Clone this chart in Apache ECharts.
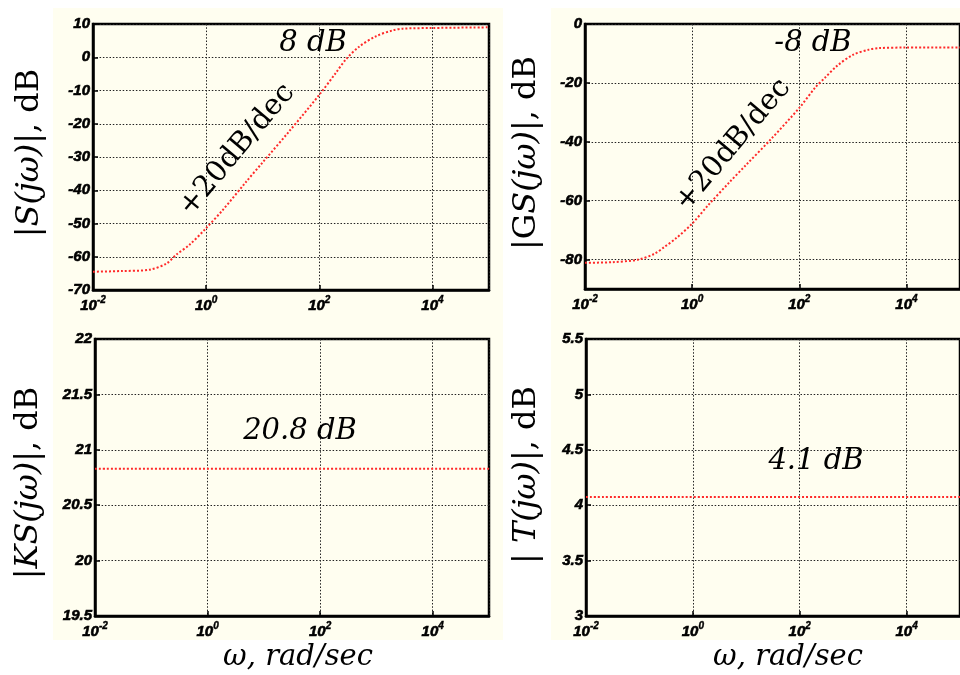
<!DOCTYPE html>
<html><head><meta charset="utf-8">
<script src="https://cdn.jsdelivr.net/npm/echarts@6/dist/echarts.min.js"></script>
<style>html,body{margin:0;padding:0;background:#fff}#c{width:960px;height:675px}</style>
</head><body><div id="c"></div>
<script>
// ---- data ----
const omega = [0.01, 0.0316, 0.1, 0.2, 0.3, 0.5, 1, 2, 5, 10, 30, 100, 200, 300, 500, 1000, 2000, 3000, 10000, 100000];
const sDb  = [-64.5, -64.3, -63.9, -62.0, -59.3, -56.5, -51.4, -45.8, -37.6, -31.6, -22.1, -11.3, -4.5, -0.5, 3.1, 6.3, 8.1, 8.6, 8.8, 9.0];
const gsDb = [-81.1, -80.9, -80.0, -78.0, -75.8, -72.8, -67.8, -61.5, -53.7, -48.0, -39.0, -28.5, -21.5, -18.3, -14.3, -10.5, -8.7, -8.2, -8.0, -8.0];
const omegaFlat = [0.01, 100000];
const ksDb = [20.83, 20.83];
const tDb  = [4.075, 4.075];
const gsTicks = [-80, -60, -40, -20, 0];

const cream = '#FFFEF0';
const tickFont = {fontFamily: '"Liberation Sans", Arial, sans-serif', fontWeight: 'bold', fontStyle: 'italic', fontSize: 15,
  color: '#000', textBorderColor: '#000', textBorderWidth: 0.6};

function pairs(xs, ys) { return xs.map((x, i) => [x, ys[i]]); }

const grids = [
  {left: 93, top: 24, width: 396, height: 266},
  {left: 585, top: 24, width: 380, height: 265},
  {left: 95, top: 339, width: 394, height: 277},
  {left: 586, top: 339, width: 379, height: 277}
].map(g => Object.assign(g, {show: true, backgroundColor: cream, borderColor: '#000', borderWidth: 2.5}));

const gridLine = {show: true, lineStyle: {color: '#222', type: [1.5, 1.8], width: 1}};

const xAxes = [0, 1, 2, 3].map(i => ({
  type: 'log', logBase: 10, gridIndex: i, min: 0.01, max: 100000, interval: 2,
  axisLine: {show: true, onZero: false, lineStyle: {color: '#000', width: 2.5}},
  axisTick: {show: true, inside: true, length: 5, lineStyle: {color: '#000', width: 1.5}},
  splitLine: gridLine,
  axisLabel: {
    showMaxLabel: false, margin: 5,
    formatter: v => '{b|10}{s|' + Math.round(Math.log10(v)) + '}',
    rich: {
      b: Object.assign({}, tickFont, {lineHeight: 18, verticalAlign: 'bottom'}),
      s: Object.assign({}, tickFont, {fontSize: 10, lineHeight: 18, verticalAlign: 'top', textBorderWidth: 0.4})
    }
  }
}));

function yAx(i, min, max, interval, extra) {
  return Object.assign({
    type: 'value', gridIndex: i, min: min, max: max, interval: interval,
    axisLine: {show: true, onZero: false, lineStyle: {color: '#000', width: 2.5}},
    axisTick: {show: true, inside: true, length: 5, lineStyle: {color: '#000', width: 1.5}},
    splitLine: gridLine,
    axisLabel: Object.assign({}, tickFont, {margin: 3})
  }, extra || {});
}

const yAxes = [
  yAx(0, -70, 10, 10),
  yAx(1, -90, 0, 10, {
    axisTick: {show: true, inside: true, length: 5, lineStyle: {color: '#000', width: 1.5}, customValues: gsTicks},
    axisLabel: Object.assign({}, tickFont, {margin: 3, customValues: gsTicks})
  }),
  yAx(2, 19.5, 22, 0.5),
  yAx(3, 3, 5.5, 0.5)
];

const lineStyle = {color: '#FF2A2A', width: 2, type: [2, 2]};
const mk = (i, d) => ({type: 'line', xAxisIndex: i, yAxisIndex: i, data: d, smooth: 0.3,
  showSymbol: false, symbol: 'none', lineStyle: lineStyle, silent: true, animation: false});

const serif = 'DejaVu Serif';
function ytitle(x, y, parts) {
  const rich = {
    n: {fontFamily: serif, fontSize: 31, fill: '#000'},
    i: {fontFamily: serif, fontSize: 31, fontStyle: 'italic', fill: '#000'}
  };
  return {type: 'text', x: x, y: y, rotation: Math.PI / 2, scaleX: 1.03, z: 50,
    style: {text: parts, rich: rich, align: 'center', verticalAlign: 'middle', fill: '#000'}};
}
function note(x, y, text, size, italic, rot) {
  return {type: 'text', x: x, y: y, rotation: rot || 0, z: 50,
    style: {text: text, fill: '#000', align: 'center', verticalAlign: 'middle',
      font: (italic ? 'italic ' : '') + size + 'px "' + serif + '"'}};
}

const graphic = [
  {type: 'rect', shape: {x: 53, y: 8, width: 450, height: 632}, style: {fill: cream}, z: -10},
  {type: 'rect', shape: {x: 551, y: 8, width: 420, height: 632}, style: {fill: cream}, z: -10},
  ytitle(30, 153, '{n||}{i|S(jω)}{n||, dB}'),
  ytitle(527, 153, '{n||G}{i|S(jω)}{n||, dB}'),
  ytitle(29, 483, '{n||}{i|KS(jω)}{n||, dB}'),
  ytitle(527, 475, '{n|| }{i|T(jω)}{n||, dB}'),
  note(298, 657, 'ω, rad/sec', 29, true),
  note(788, 657, 'ω, rad/sec', 29, true),
  note(313, 43, '8 dB', 29, true),
  note(813, 43, '-8 dB', 29, true),
  note(300, 431, '20.8 dB', 29, true),
  note(816, 461, '4.1 dB', 29, true),
  note(237, 150, '+20dB/dec', 29, false, 50 * Math.PI / 180),
  note(733, 145, '+20dB/dec', 29, false, 50 * Math.PI / 180)
];

const chart = echarts.init(document.getElementById('c'), null, {renderer: 'canvas'});
chart.setOption({
  animation: false,
  backgroundColor: '#fff',
  grid: grids,
  xAxis: xAxes,
  yAxis: yAxes,
  graphic: graphic,
  series: [
    mk(0, pairs(omega, sDb)),
    mk(1, pairs(omega, gsDb)),
    mk(2, pairs(omegaFlat, ksDb)),
    mk(3, pairs(omegaFlat, tDb))
  ]
});
</script></body></html>
